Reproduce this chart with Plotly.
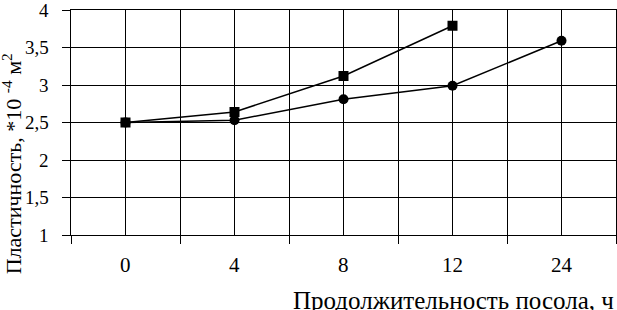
import plotly.graph_objects as go

categories = ["0", "4", "8", "12", "24"]
series_square = [2.5, 2.64, 3.12, 3.79]
series_circle = [2.5, 2.53, 2.81, 2.99, 3.59]
y_tickvals = [1, 1.5, 2, 2.5, 3, 3.5, 4]
y_ticktext = ["1", "1,5", "2", "2,5", "3", "3,5", "4"]
x_title = "Продолжительность посола, ч"
y_title = "Пластичность, *10 <sup>-4</sup> м<sup>2</sup>"

FONT = "'Times New Roman', 'Liberation Serif', serif"
NUMFONT = "'Liberation Serif', 'Times New Roman', 'DejaVu Serif', serif"
xpos = list(range(len(categories)))

fig = go.Figure()
fig.add_trace(go.Scatter(
    x=xpos[:len(series_square)], y=series_square, mode="lines+markers",
    line=dict(color="black", width=1.5),
    marker=dict(symbol="square", size=10, color="black"),
    showlegend=False))
fig.add_trace(go.Scatter(
    x=xpos, y=series_circle, mode="lines+markers",
    line=dict(color="black", width=1.5),
    marker=dict(symbol="circle", size=10, color="black"),
    showlegend=False))

annotations = [
    dict(text=x_title, xref="paper", yref="paper", x=1.0, y=-0.29,
         xanchor="right", yanchor="middle", showarrow=False,
         font=dict(family=FONT, size=25, color="black")),
    dict(text=y_title, xref="paper", yref="paper", x=-0.108, y=0.315,
         xanchor="center", yanchor="middle", textangle=-90, showarrow=False,
         font=dict(family=FONT, size=22, color="black")),
]
# tick labels (drawn as text at the axis' own positions)
for xv, lab in zip(xpos, categories):
    annotations.append(dict(text=lab, xref="x", yref="paper", x=xv, y=-0.133,
                            xanchor="center", yanchor="middle", showarrow=False,
                            font=dict(family=NUMFONT, size=21, color="black")))
for yv, lab in zip(y_tickvals, y_ticktext):
    annotations.append(dict(text=lab, xref="paper", yref="y", x=-0.036, y=yv,
                            xanchor="right", yanchor="middle", showarrow=False,
                            font=dict(family=NUMFONT, size=19, color="black")))

fig.update_layout(
    width=617, height=310,
    margin=dict(l=71, r=1, t=10, b=75, autoexpand=False),
    paper_bgcolor="white", plot_bgcolor="white",
    font=dict(family=FONT, color="black", size=19),
    annotations=annotations,
)
fig.update_xaxes(
    range=[-0.5, len(categories) - 0.5],
    tickmode="array", tickvals=xpos, ticktext=categories,
    showticklabels=False, ticks="",
    showgrid=True, gridcolor="black", gridwidth=1,
    minor=dict(tick0=-0.5, dtick=1, showgrid=True, gridcolor="black", gridwidth=1,
               ticks="outside", ticklen=8, tickcolor="black", tickwidth=1),
    showline=True, linecolor="black", linewidth=1, mirror=True,
    zeroline=False, fixedrange=True, automargin=False,
)
fig.update_yaxes(
    range=[1, 4], tickmode="array", tickvals=y_tickvals, ticktext=y_ticktext,
    showticklabels=False,
    ticks="outside", ticklen=8, tickcolor="black", tickwidth=1,
    showgrid=True, gridcolor="black", gridwidth=1,
    showline=True, linecolor="black", linewidth=1, mirror=True,
    zeroline=False, fixedrange=True, automargin=False,
)
fig.write_html(
    "out.html",
    config={"displayModeBar": False, "staticPlot": True},
    post_script="document.body.style.margin='0';document.body.style.overflow='hidden';",
)
